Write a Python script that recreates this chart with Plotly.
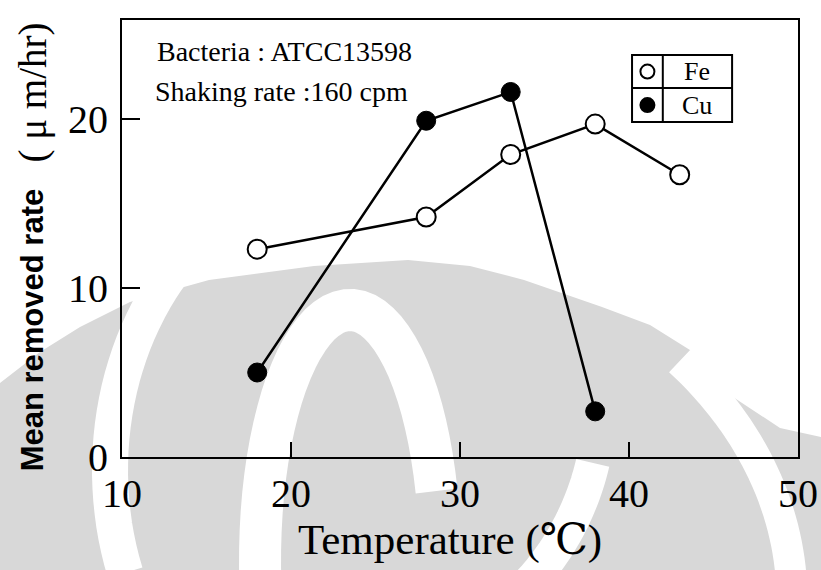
import math
import plotly.graph_objects as go

# ---- data ----
temp_fe = [18, 28, 33, 38, 43]
rate_fe = [12.3, 14.2, 17.9, 19.7, 16.7]
temp_cu = [18, 28, 33, 38]
rate_cu = [5.0, 19.9, 21.6, 2.7]

x_ticks = [10, 20, 30, 40, 50]
y_ticks = [0, 10, 20]

SERIF = "Liberation Serif, Times New Roman, DejaVu Serif, serif"
SANS = "Liberation Sans, Arial, sans-serif"

W, H = 821, 570
ML, MR, MT, MB = 122, 23, 20, 113
PW, PH = W - ML - MR, H - MT - MB


def px2paper(px, py):
    return (px - ML) / PW, (H - MB - py) / PH


def path_from(points, close=False):
    pts = [px2paper(x, y) for x, y in points]
    s = "M " + " L ".join(f"{x:.4f},{y:.4f}" for x, y in pts)
    return s + (" Z" if close else "")


def arc(cx, cy, rx, ry, a0, a1, n=40):
    return [(cx + rx * math.cos(math.radians(a0 + (a1 - a0) * i / n)),
             cy - ry * math.sin(math.radians(a0 + (a1 - a0) * i / n))) for i in range(n + 1)]


fig = go.Figure()
fig.add_trace(go.Scatter(
    x=temp_fe, y=rate_fe, mode="lines+markers", name="Fe",
    line=dict(color="black", width=2.5),
    marker=dict(symbol="circle", size=19, color="white",
                line=dict(color="black", width=2)),
))
fig.add_trace(go.Scatter(
    x=temp_cu, y=rate_cu, mode="lines+markers", name="Cu",
    line=dict(color="black", width=2.5),
    marker=dict(symbol="circle", size=19, color="black",
                line=dict(color="black", width=1)),
))

axis_common = dict(
    showline=True, linecolor="black", linewidth=2, mirror=True,
    ticks="inside", tickcolor="black", tickwidth=2,
    showgrid=False, zeroline=False, automargin=False,
    tickfont=dict(family=SERIF, size=40, color="black"),
)
fig.update_xaxes(range=[10, 50], tickvals=x_ticks, ticklen=15, **axis_common)
fig.update_yaxes(range=[0, 25.86], tickvals=y_ticks, ticklen=18,
                 ticklabelstandoff=4, **axis_common)

shapes = []
# ---- background watermark (light grey rings) ----
GREY = "#d8d8d8"
top_edge = [(0, 383), (40, 352), (80, 327), (130, 302), (209, 280), (314, 266),
            (408, 260), (470, 266), (524, 280), (602, 307), (650, 325), (690, 350),
            (733, 397), (780, 428), (821, 437), (821, 570), (0, 570)]
shapes.append(dict(type="path", xref="paper", yref="paper", path=path_from(top_edge, True),
                   fillcolor=GREY, line=dict(width=0), layer="below"))
rings = [
    (arc(360, 470, 250, 300, 105, 200), 36),   # outer-left white band
    (arc(355, 400, 245, 260, -14, -50), 34),   # lower right white band
    (arc(312, 600, 480, 372, -10, 40), 31),    # far-right white band
    (arc(350, 560, 90, 250, 16, 186), 42),     # inner lens outline
]
for pts, wdt in rings:
    shapes.append(dict(type="path", xref="paper", yref="paper", path=path_from(pts),
                       line=dict(color="white", width=wdt), layer="below"))

# ---- legend table ----
lx0, lx1, lxd = 40.18, 46.1, 42.0
ly0, ly1, lyd = 19.82, 23.79, 21.83
shapes.append(dict(type="rect", xref="x", yref="y", x0=lx0, x1=lx1, y0=ly0, y1=ly1,
                   line=dict(color="black", width=2), fillcolor="white", layer="above"))
shapes.append(dict(type="line", xref="x", yref="y", x0=lxd, x1=lxd, y0=ly0, y1=ly1,
                   line=dict(color="black", width=2)))
shapes.append(dict(type="line", xref="x", yref="y", x0=lx0, x1=lx1, y0=lyd, y1=lyd,
                   line=dict(color="black", width=2)))
mx = (lx0 + lxd) / 2
for yc, fill in [((lyd + ly1) / 2, "white"), ((ly0 + lyd) / 2, "black")]:
    shapes.append(dict(type="circle", xref="x", yref="y",
                       xsizemode="pixel", ysizemode="pixel",
                       xanchor=mx, yanchor=yc, x0=-7, x1=7, y0=-7, y1=7,
                       line=dict(color="black", width=2), fillcolor=fill, layer="above"))

annotations = [
    dict(x=11.95, y=24.0, xref="x", yref="y", text="Bacteria : ATCC13598",
         showarrow=False, xanchor="left", yanchor="middle",
         font=dict(family=SERIF, size=28, color="black")),
    dict(x=11.83, y=21.65, xref="x", yref="y", text="Shaking rate :160 cpm",
         showarrow=False, xanchor="left", yanchor="middle",
         font=dict(family=SERIF, size=28, color="black")),
    dict(x=(lxd + lx1) / 2, y=(lyd + ly1) / 2, xref="x", yref="y", text="Fe",
         showarrow=False, xanchor="center", yanchor="middle",
         font=dict(family=SERIF, size=26, color="black")),
    dict(x=(lxd + lx1) / 2, y=(ly0 + lyd) / 2, xref="x", yref="y", text="Cu",
         showarrow=False, xanchor="center", yanchor="middle",
         font=dict(family=SERIF, size=26, color="black")),
    dict(x=0.485, y=-0.19, xref="paper", yref="paper", text="Temperature (℃)",
         showarrow=False, xanchor="center", yanchor="middle",
         font=dict(family=SERIF, size=43, color="black")),
    dict(x=-0.133, y=0.29, xref="paper", yref="paper", text="<b>Mean removed rate</b>",
         showarrow=False, xanchor="center", yanchor="middle", textangle=-90,
         font=dict(family=SANS, size=31, color="black")),
    dict(x=-0.131, y=0.835, xref="paper", yref="paper", text="( μ m/hr)",
         showarrow=False, xanchor="center", yanchor="middle", textangle=-90,
         font=dict(family=SERIF, size=39, color="black")),
]

fig.update_layout(
    width=W, height=H,
    margin=dict(l=ML, r=MR, t=MT, b=MB),
    paper_bgcolor="white", plot_bgcolor="rgba(0,0,0,0)",
    showlegend=False,
    shapes=shapes, annotations=annotations,
)

fig.write_html("out.html")
